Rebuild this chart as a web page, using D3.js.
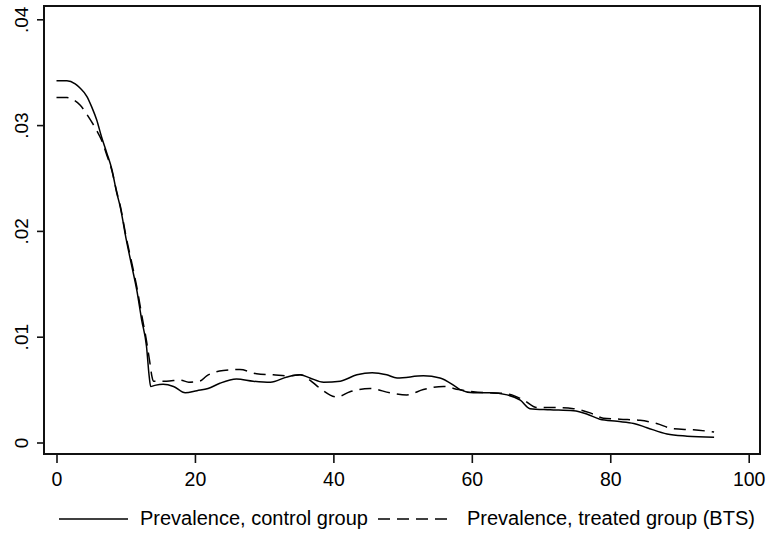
<!DOCTYPE html>
<html>
<head>
<meta charset="utf-8">
<script src="https://cdn.jsdelivr.net/npm/d3@7"></script>
<style>
  html, body { margin: 0; padding: 0; background: #fff; }
  svg { display: block; }
  text { font-family: "Liberation Sans", Arial, sans-serif; fill: #000; }
</style>
</head>
<body>
<svg id="chart" width="766" height="534"></svg>
<script>
// ---- Data ----
const controlAge = [0, 1.5, 2.7, 3.4, 4.4, 5.1, 5.8, 6.5, 7.25, 8, 8.7, 9.2, 10.1, 10.9, 11.6, 12.3, 13, 13.4, 13.6, 14.2, 15.4, 16.9, 18.6, 20.3, 21.9, 23.6, 26, 28.4, 30.9, 33.3, 35.2, 36.6, 38.6, 41, 43.4, 45.6, 47.7, 49.2, 53, 55.4, 57.6, 58.3, 60.2, 62.6, 65.1, 67, 68.4, 71.3, 74.7, 76.6, 78.5, 81, 83.4, 85.3, 88.2, 91.1, 95];
const controlPrev = [0.0342, 0.0342, 0.0339, 0.0335, 0.0327, 0.0317, 0.0305, 0.0289, 0.0274, 0.0258, 0.0236, 0.0223, 0.0191, 0.0166, 0.0144, 0.0116, 0.0091, 0.0062, 0.0053, 0.0054, 0.0055, 0.0053, 0.0047, 0.0049, 0.0051, 0.0056, 0.0060, 0.0058, 0.0057, 0.0062, 0.0064, 0.0061, 0.0057, 0.0058, 0.0064, 0.0066, 0.0064, 0.0061, 0.0063, 0.0061, 0.0053, 0.0050, 0.0047, 0.0047, 0.0045, 0.0040, 0.0032, 0.0031, 0.0030, 0.0027, 0.0022, 0.0020, 0.0018, 0.0014, 0.0008, 0.0006, 0.0005];

const treatedAge = [0, 1.5, 2.4, 3.4, 4.6, 5.8, 6.5, 7.25, 8, 8.7, 9.2, 10.1, 10.9, 11.6, 12.3, 13, 13.5, 13.8, 14, 15.9, 17.9, 19.1, 20.7, 21.7, 24.1, 26.5, 28.9, 31.3, 33.7, 35.2, 36.6, 38.1, 40.5, 42.4, 45.3, 48.2, 50.6, 53, 55.9, 58.1, 60.2, 65.1, 67.5, 69.4, 72.3, 74.7, 77.1, 79, 81.4, 84.3, 86.7, 89.1, 92, 95];
const treatedPrev = [0.0326, 0.0326, 0.0324, 0.0319, 0.0308, 0.0295, 0.0286, 0.0272, 0.0257, 0.0237, 0.0224, 0.0193, 0.0169, 0.0147, 0.0121, 0.0096, 0.0075, 0.0062, 0.0058, 0.0058, 0.0059, 0.0057, 0.0058, 0.0063, 0.0068, 0.0069, 0.0065, 0.0064, 0.0063, 0.0064, 0.0059, 0.0051, 0.0043, 0.0048, 0.0051, 0.0047, 0.0045, 0.0050, 0.0053, 0.0050, 0.0048, 0.0046, 0.0040, 0.0033, 0.0033, 0.0032, 0.0028, 0.0023, 0.0022, 0.0021, 0.0018, 0.0013, 0.0012, 0.0010];

const xTicks = [0, 20, 40, 60, 80, 100];
const yTicks = [0, 0.01, 0.02, 0.03, 0.04];
const yTickLabels = ["0", ".01", ".02", ".03", ".04"];
const seriesNames = ["Prevalence, control group", "Prevalence, treated group (BTS)"];

// ---- Layout ----
const svg = d3.select("#chart");
const frame = { left: 44, right: 760, top: 6, bottom: 454 };

const x = d3.scaleLinear().domain([0, 100]).range([56.5, 748.7]);
const y = d3.scaleLinear().domain([0, 0.04]).range([442.5, 19.3]);

// frame
svg.append("rect")
  .attr("x", frame.left).attr("y", frame.top)
  .attr("width", frame.right - frame.left)
  .attr("height", frame.bottom - frame.top)
  .attr("fill", "none").attr("stroke", "#111").attr("stroke-width", 2);

// y axis
const yAxis = svg.append("g")
  .attr("transform", `translate(${frame.left},0)`)
  .call(d3.axisLeft(y).tickValues(yTicks).tickSize(7).tickPadding(0)
    .tickFormat((d, i) => yTickLabels[i]));
yAxis.select(".domain").remove();
yAxis.selectAll(".tick line").attr("stroke", "#111").attr("stroke-width", 1.6);
yAxis.selectAll(".tick text")
  .attr("x", 0).attr("y", -16).attr("dy", null)
  .attr("transform", "rotate(-90)")
  .attr("text-anchor", "middle")
  .style("font-size", "19px")
  .attr("fill", "#000");

// x axis
const xAxis = svg.append("g")
  .attr("transform", `translate(0,${frame.bottom})`)
  .call(d3.axisBottom(x).tickValues(xTicks).tickSize(9).tickPadding(0)
    .tickFormat(d3.format("d")));
xAxis.select(".domain").remove();
xAxis.selectAll(".tick line").attr("stroke", "#111").attr("stroke-width", 1.6);
xAxis.selectAll(".tick text")
  .attr("y", 32).attr("dy", null)
  .style("font-size", "19.5px")
  .attr("fill", "#000");

// lines
const line = d3.line().curve(d3.curveMonotoneX);
const controlPts = controlAge.map((a, i) => [x(a), y(controlPrev[i])]);
const treatedPts = treatedAge.map((a, i) => [x(a), y(treatedPrev[i])]);

const plot = svg.append("g");
plot.append("path").attr("d", line(controlPts))
  .attr("fill", "none").attr("stroke", "#000").attr("stroke-width", 1.5);
plot.append("path").attr("d", line(treatedPts))
  .attr("fill", "none").attr("stroke", "#000").attr("stroke-width", 1.5)
  .attr("stroke-dasharray", "12,7");

// legend
const lg = svg.append("g");
lg.append("line").attr("x1", 59).attr("x2", 128).attr("y1", 519).attr("y2", 519)
  .attr("stroke", "#000").attr("stroke-width", 1.5);
lg.append("text").attr("x", 140).attr("y", 525).style("font-size", "20px").text(seriesNames[0]);
lg.append("line").attr("x1", 378).attr("x2", 448).attr("y1", 519).attr("y2", 519)
  .attr("stroke", "#000").attr("stroke-width", 1.5).attr("stroke-dasharray", "12,7");
lg.append("text").attr("x", 467).attr("y", 525).style("font-size", "20px").text(seriesNames[1]);
</script>
</body>
</html>
